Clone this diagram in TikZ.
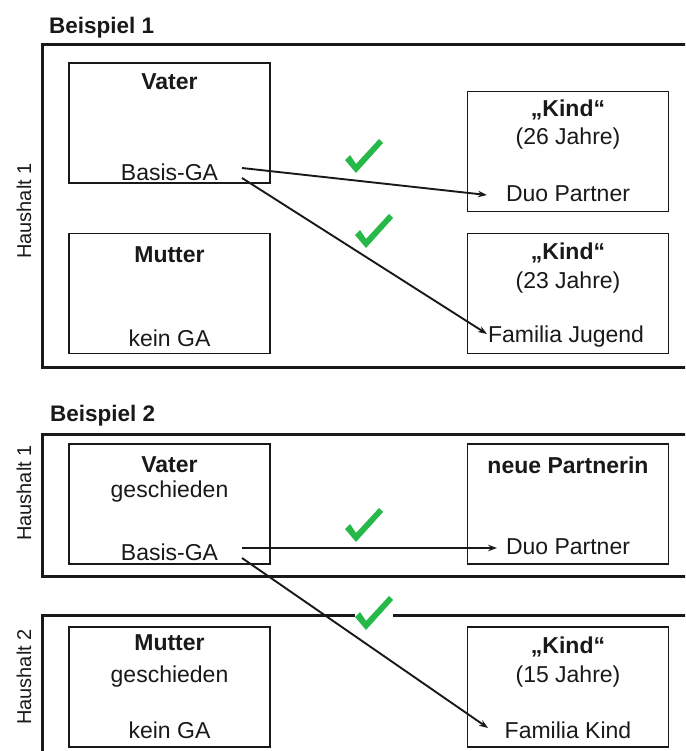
\documentclass[tikz,border=0pt]{standalone}
\usepackage{fontspec}
\setmainfont{Liberation Sans}
\usetikzlibrary{arrows.meta}
\definecolor{chkgreen}{RGB}{38,184,72}
\definecolor{ink}{RGB}{25,25,25}
\begin{document}
\begin{tikzpicture}[x=1pt,y=-1pt,
  frame/.style={line width=3pt, draw=ink},
  pbox/.style={draw=ink, line width=1.3pt, rectangle, minimum width=201pt, minimum height=120pt, inner sep=0pt},
  txt/.style={font=\fontsize{23}{27}\selectfont, inner sep=0pt, text=ink},
  btxt/.style={font=\fontsize{23}{27}\selectfont\bfseries, inner sep=0pt, text=ink},
  titletxt/.style={font=\fontsize{22.5}{27}\selectfont\bfseries, inner sep=0pt, anchor=west, text=ink},
  hh/.style={font=\fontsize{20}{24}\selectfont, rotate=90, inner sep=0pt, text=ink},
  arr/.style={line width=1.9pt, draw=ink, -{Stealth[length=9pt,width=6.5pt]}},
  chk/.pic={\fill[chkgreen] (0,21) -- (5,16) -- (11,25) -- (34,0) -- (38,4) -- (11,34) -- cycle;}
]
\useasboundingbox (0,0) rectangle (685,751);
\clip (0,0) rectangle (685,751);

% ---------- Beispiel 1 ----------
\node[titletxt] (t1) at (49,28) {Beispiel 1};
\draw[frame] (42,44.5) rectangle (700,367.5);
\node[hh] (h11) at (24,211) {Haushalt 1};

\node[pbox] (v1) at (169.5,123) {};
\node[pbox] (m1) at (169.5,293.5) {};
\node[pbox] (k1) at (568,151.5) {};
\node[pbox] (k2) at (568,293.5) {};

\node[btxt] (v1a) at (169.5,82) {Vater};
\node[txt]  (v1b) at (169.5,172) {Basis-GA};
\node[btxt] (m1a) at (169.5,255) {Mutter};
\node[txt]  (m1b) at (169.5,338) {kein GA};
\node[btxt] (k1a) at (568,110) {„Kind“};
\node[txt]  (k1b) at (568,139) {(26 Jahre)};
\node[txt]  (k1c) at (568,194) {Duo Partner};
\node[btxt] (k2a) at (568,253) {„Kind“};
\node[txt]  (k2b) at (568,283) {(23 Jahre)};
\node[txt]  (k2c) at (566,337) {Familia Jugend};

\pic at (345,139) {chk};
\pic at (355,214) {chk};

\coordinate (a1s) at (242,168);
\coordinate (a1e) at (487,195);
\coordinate (a2s) at (242,178);
\coordinate (a2e) at (487,334);
\draw[arr] (a1s) -- (a1e);
\draw[arr] (a2s) -- (a2e);

% ---------- Beispiel 2 ----------
\node[titletxt] (t2) at (50,416) {Beispiel 2};
\draw[frame] (42,434.5) rectangle (700,576);
\draw[frame] (42,615) rectangle (700,790);
\node[hh] (h21) at (24,493) {Haushalt 1};
\node[hh] (h22) at (24,677) {Haushalt 2};

\node[pbox] (v2) at (169.5,504) {};
\node[pbox] (p2) at (568,504) {};
\node[pbox] (m2) at (169.5,687) {};
\node[pbox] (k3) at (568,687) {};

\node[btxt] (v2a) at (169.5,465) {Vater};
\node[txt]  (v2b) at (169.5,492) {geschieden};
\node[txt]  (v2c) at (169.5,552) {Basis-GA};
\node[btxt] (p2a) at (568,465) {neue Partnerin};
\node[txt]  (p2b) at (568,547) {Duo Partner};
\node[btxt] (m2a) at (169.5,643) {Mutter};
\node[txt]  (m2b) at (169.5,677) {geschieden};
\node[txt]  (m2c) at (169.5,730) {kein GA};
\node[btxt] (k3a) at (568,647) {„Kind“};
\node[txt]  (k3b) at (568,677) {(15 Jahre)};
\node[txt]  (k3c) at (568,730) {Familia Kind};

\pic at (345,508) {chk};
\fill[white] (355,598) rectangle (393,628);
\pic at (355,596) {chk};

\coordinate (b1s) at (242,548);
\coordinate (b1e) at (497,548);
\coordinate (b2s) at (242,558);
\coordinate (b2e) at (488,728);
\draw[arr] (b1s) -- (b1e);
\draw[arr] (b2s) -- (b2e);
\end{tikzpicture}
\end{document}
